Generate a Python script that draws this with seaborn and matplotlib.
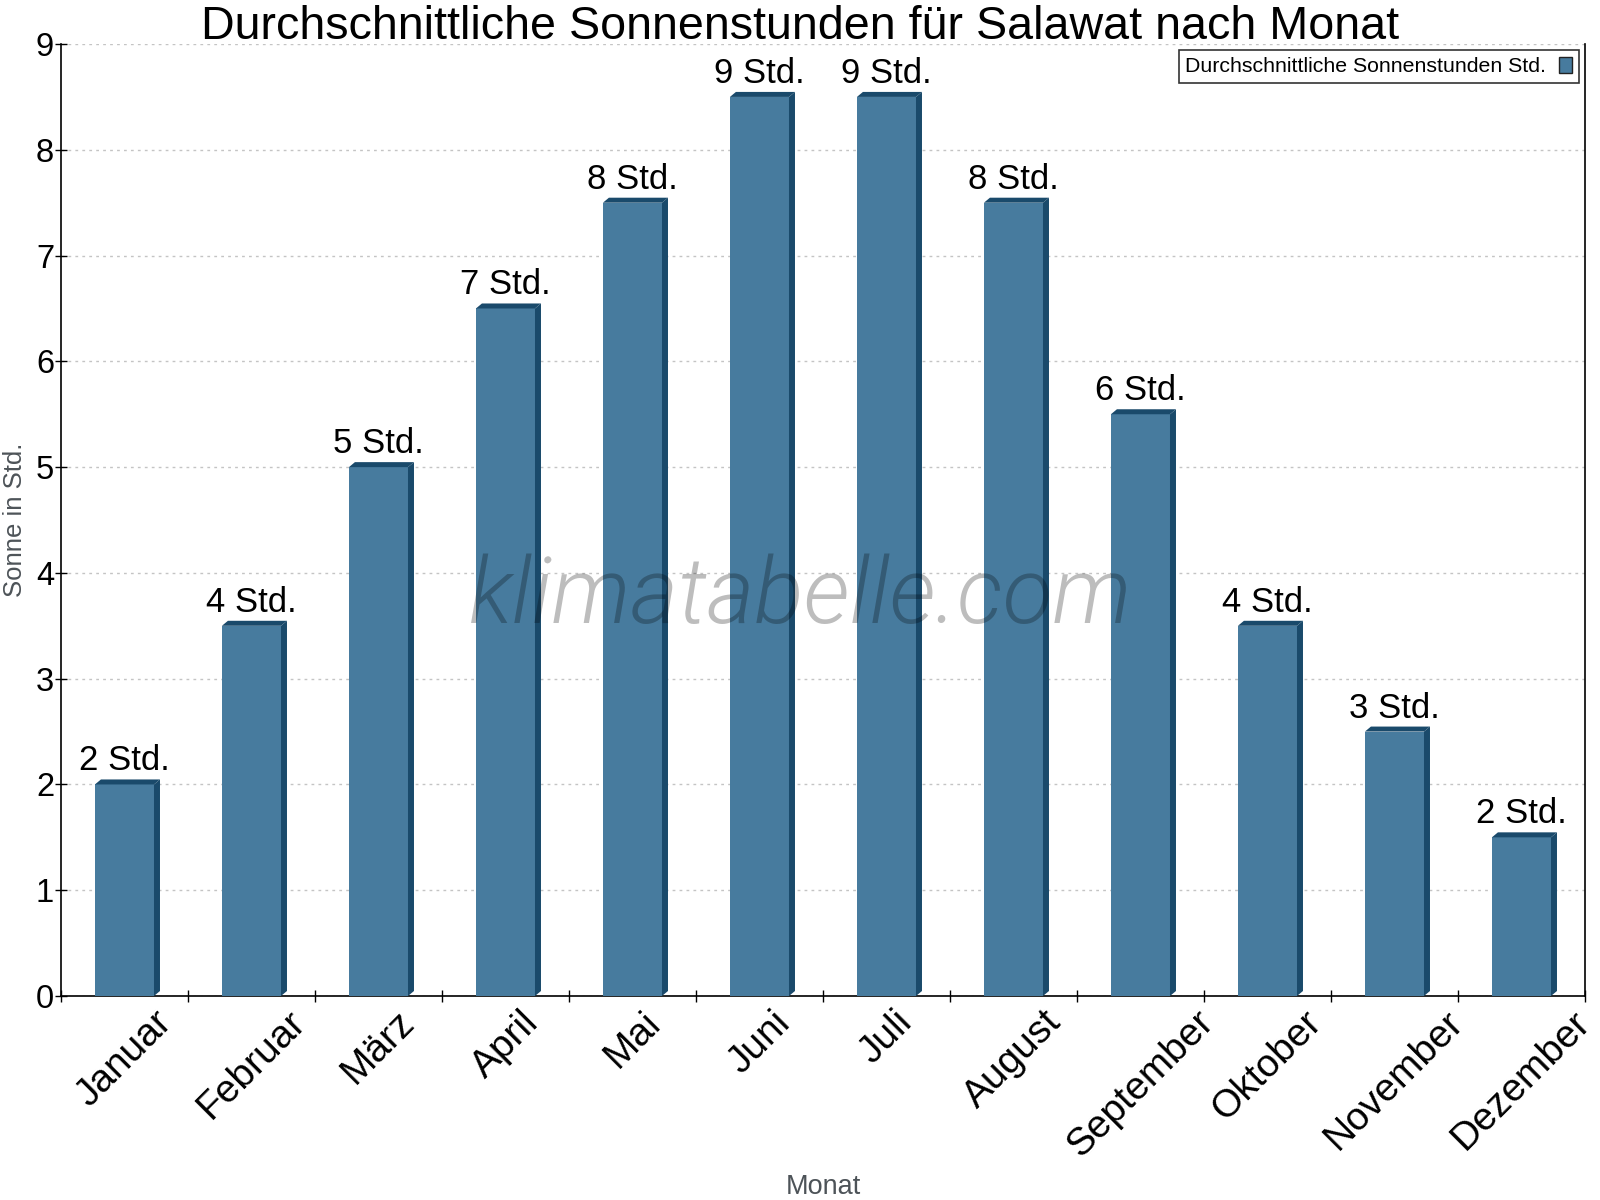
"""Average sunshine hours per month for Salawat, klimatabelle style."""
import matplotlib
matplotlib.use("Agg")
import matplotlib.pyplot as plt
from matplotlib.patches import Polygon
import seaborn as sns
import pandas as pd

months = ["Januar", "Februar", "März", "April", "Mai", "Juni", "Juli",
          "August", "September", "Oktober", "November", "Dezember"]
sun_hours = [2.0, 3.5, 5.0, 6.5, 7.5, 8.5, 8.5, 7.5, 5.5, 3.5, 2.5, 1.5]
bar_labels = ["2 Std.", "4 Std.", "5 Std.", "7 Std.", "8 Std.", "9 Std.",
              "9 Std.", "8 Std.", "6 Std.", "4 Std.", "3 Std.", "2 Std."]
y_ticks = list(range(0, 10))

front_color = "#477b9e"
dark_color = "#1a4a6b"
label_gray = "#4d5358"

sns.set_style("white")
plt.rcParams['font.family'] = ['Liberation Sans', 'DejaVu Sans']
plt.rcParams['text.color'] = 'black'

df = pd.DataFrame({"Monat": months, "Sonne": sun_hours})

fig = plt.figure(figsize=(16, 12), dpi=100)
ax_pos = [0.0381, 0.17, 0.9525, 0.7933]
ax = fig.add_axes(ax_pos)

sns.barplot(data=df, x="Monat", y="Sonne", color=front_color, width=0.465,
            saturation=1, linewidth=0, ax=ax, zorder=3,
            label="Durchschnittliche Sonnenstunden Std.")

ax.set_xlim(-0.5, len(months) - 0.5)
ax.set_ylim(0, 9)

# pseudo 3d: side and top faces in a darker tone
fig.canvas.draw()
bbox = ax.get_window_extent()
px_x = (ax.get_xlim()[1] - ax.get_xlim()[0]) / bbox.width
px_y = (ax.get_ylim()[1] - ax.get_ylim()[0]) / bbox.height
dx, dy = 6 * px_x, 5 * px_y
for patch, lab in zip(list(ax.patches), bar_labels):
    x, w, h = patch.get_x(), patch.get_width(), patch.get_height()
    side = Polygon([(x + w, 0), (x + w + dx, dy), (x + w + dx, h + dy), (x + w, h)],
                   closed=True, facecolor=dark_color, edgecolor="none", zorder=3)
    top = Polygon([(x, h), (x + dx, h + dy), (x + w + dx, h + dy), (x + w, h)],
                  closed=True, facecolor=dark_color, edgecolor="none", zorder=3)
    ax.add_patch(side)
    ax.add_patch(top)
    ax.text(x + w / 2, h + dy + 2 * px_y, lab, ha="center", va="bottom",
            fontsize=25, color="black", zorder=5)

ax.set_yticks(y_ticks)
ax.tick_params(axis="y", labelsize=23.5, length=8, width=1, direction="inout",
               left=True, color="black", labelcolor="black", pad=1)
ax.set_xticks(range(len(months)))
ax.set_xticklabels(months, rotation=45, ha="center", fontsize=28)
ax.set_xticks([i - 0.5 for i in range(len(months) + 1)], minor=True)
ax.tick_params(axis="x", which="major", length=0, pad=6, labelcolor="black")
ax.tick_params(axis="x", which="minor", length=8, width=1, bottom=True,
               direction="inout", color="black")

ax.yaxis.grid(True, linestyle=(0, (2, 3)), color="#c4c4c4", linewidth=1, zorder=0)
ax.xaxis.grid(False)
ax.set_axisbelow(True)

ax.spines["top"].set_visible(False)
for side_name in ["left", "bottom", "right"]:
    ax.spines[side_name].set_color("black")
    ax.spines[side_name].set_linewidth(1.2)

ax.set_xlabel("")
ax.set_ylabel("Sonne in Std.", fontsize=18.5, color=label_gray)
ax.yaxis.set_label_coords(-0.022, 0.5)
fig.text(ax_pos[0] + ax_pos[2] / 2, 0.0, "Monat", fontsize=19.5,
         color=label_gray, ha="center", va="bottom")
fig.text(0.5, 1 - 39 / 1200, "Durchschnittliche Sonnenstunden für Salawat nach Monat",
         fontsize=33.6, color="black", ha="center", va="baseline")

ax.text(0.4856, 0.418, "klimatabelle.com", transform=ax.transAxes, fontsize=66,
        style="italic", fontweight=300, family=["Roboto", "DejaVu Sans"],
        color="black", alpha=0.26, ha="center", va="center", zorder=6)

leg = ax.legend(loc="upper right", bbox_to_anchor=(1, 1), fontsize=15.3,
                markerfirst=False, frameon=True, fancybox=False, handlelength=0.62,
                handleheight=0.8, handletextpad=0.6, borderpad=0.3,
                borderaxespad=0.3)
leg.get_frame().set_edgecolor("black")
leg.get_frame().set_linewidth(1.2)
for text in leg.get_texts():
    text.set_color("black")
for h in leg.legend_handles:
    h.set_edgecolor("#222222")
    h.set_linewidth(1)

fig.savefig("out.png", dpi=100)
